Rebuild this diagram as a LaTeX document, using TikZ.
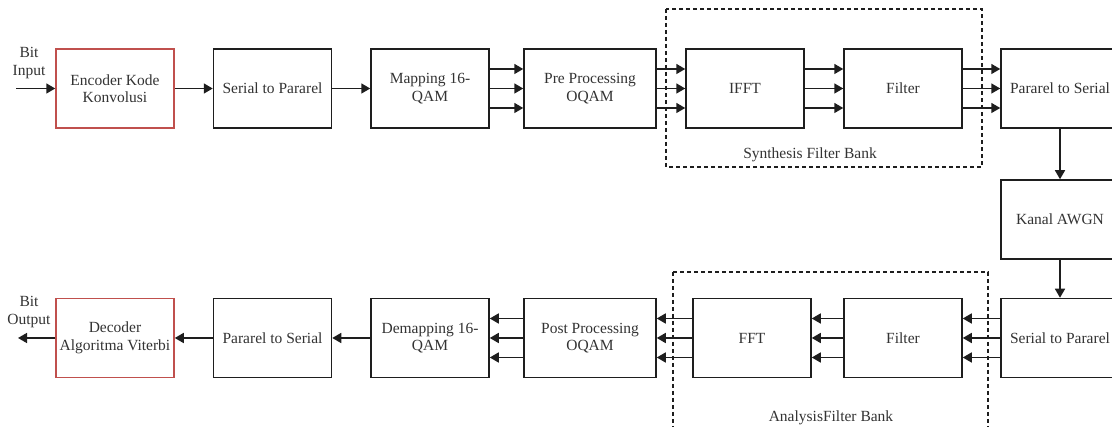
\documentclass[tikz,border=0pt]{standalone}
\usepackage{fontspec}
\setmainfont{Liberation Serif}
\usetikzlibrary{arrows.meta,calc}
\definecolor{ink}{HTML}{1E1E1E}
\definecolor{txt}{HTML}{333333}
\definecolor{redline}{HTML}{C0504D}
\tikzset{
  blk/.style={draw=ink, line width=1.5pt, fill=white, minimum width=118pt, minimum height=79pt,
    inner sep=2pt, align=center, text=txt, font=\fontsize{15.5}{17.5}\selectfont},
  wideblk/.style={blk, minimum width=132pt},
  redblk/.style={blk, draw=redline},
  arr/.style={draw=ink, line width=1.6pt, -{Triangle[length=9pt,width=10pt]}},
  bank/.style={draw=ink, line width=1.2pt, dash pattern=on 4pt off 3pt},
  lbl/.style={text=txt, font=\fontsize{15.5}{17.5}\selectfont, align=center, inner sep=0pt},
}
\begin{document}
\begin{tikzpicture}[x=1pt,y=1pt]
\useasboundingbox (0,0) rectangle (1112,427);
\clip (0,0) rectangle (1112,427);

% dashed filter-bank frames
\draw[bank] (666,418) rectangle (982,260);
\draw[bank] (673,155) -- (988,155) -- (988,-5);
\draw[bank] (673,155) -- (673,-5);
\node[lbl] (synlbl) at (810,272) {Synthesis Filter Bank};
\node[lbl] (analbl) at (831,9) {AnalysisFilter Bank};

% transmitter chain
\node[redblk]  (enc)  at (115,338.5)   {Encoder Kode\\Konvolusi};
\node[blk]     (sp1)  at (272.5,338.5) {Serial to Pararel};
\node[blk]     (map)  at (430,338.5)   {Mapping 16-\\QAM};
\node[wideblk] (pre)  at (590,338.5)   {Pre Processing\\OQAM};
\node[blk]     (ifft) at (745,338.5)   {IFFT};
\node[blk]     (sfb)  at (903,338.5)   {Filter};
\node[blk]     (ps1)  at (1060,338.5)  {Pararel to Serial};

% channel
\node[blk]     (awgn) at (1060,207.5)  {Kanal AWGN};

% receiver chain
\node[blk]     (sp2)  at (1060,89)     {Serial to Pararel};
\node[blk]     (afb)  at (903,89)      {Filter};
\node[blk]     (fft)  at (752,89)      {FFT};
\node[wideblk] (post) at (590,89)      {Post Processing\\OQAM};
\node[blk]     (dem)  at (430,89)      {Demapping 16-\\QAM};
\node[blk]     (ps2)  at (272.5,89)    {Pararel to Serial};
\node[redblk]  (dec)  at (115,89)      {Decoder\\Algoritma Viterbi};

% input / output
\node[lbl] (bitin)  at (29,364) {Bit\\Input};
\node[lbl] (bitout) at (29,115) {Bit\\Output};
\coordinate (inpt)  at (16,338.5);
\coordinate (outpt) at (18,89);

% single connectors
\draw[arr] (inpt) -- (enc.west);
\draw[arr] (enc.east) -- (sp1.west);
\draw[arr] (sp1.east) -- (map.west);
\draw[arr] (ps1.south) -- (awgn.north);
\draw[arr] (awgn.south) -- (sp2.north);
\draw[arr] (dem.west) -- (ps2.east);
\draw[arr] (ps2.west) -- (dec.east);
\draw[arr] (dec.west) -- (outpt);

% parallel (three-line) connectors
\foreach \d in {-19.5,0,19.5} {
  \draw[arr] ([yshift=\d pt]map.east)  -- ([yshift=\d pt]pre.west);
  \draw[arr] ([yshift=\d pt]pre.east)  -- ([yshift=\d pt]ifft.west);
  \draw[arr] ([yshift=\d pt]ifft.east) -- ([yshift=\d pt]sfb.west);
  \draw[arr] ([yshift=\d pt]sfb.east)  -- ([yshift=\d pt]ps1.west);
  \draw[arr] ([yshift=\d pt]sp2.west)  -- ([yshift=\d pt]afb.east);
  \draw[arr] ([yshift=\d pt]afb.west)  -- ([yshift=\d pt]fft.east);
  \draw[arr] ([yshift=\d pt]fft.west)  -- ([yshift=\d pt]post.east);
  \draw[arr] ([yshift=\d pt]post.west) -- ([yshift=\d pt]dem.east);
}
\end{tikzpicture}
\end{document}
